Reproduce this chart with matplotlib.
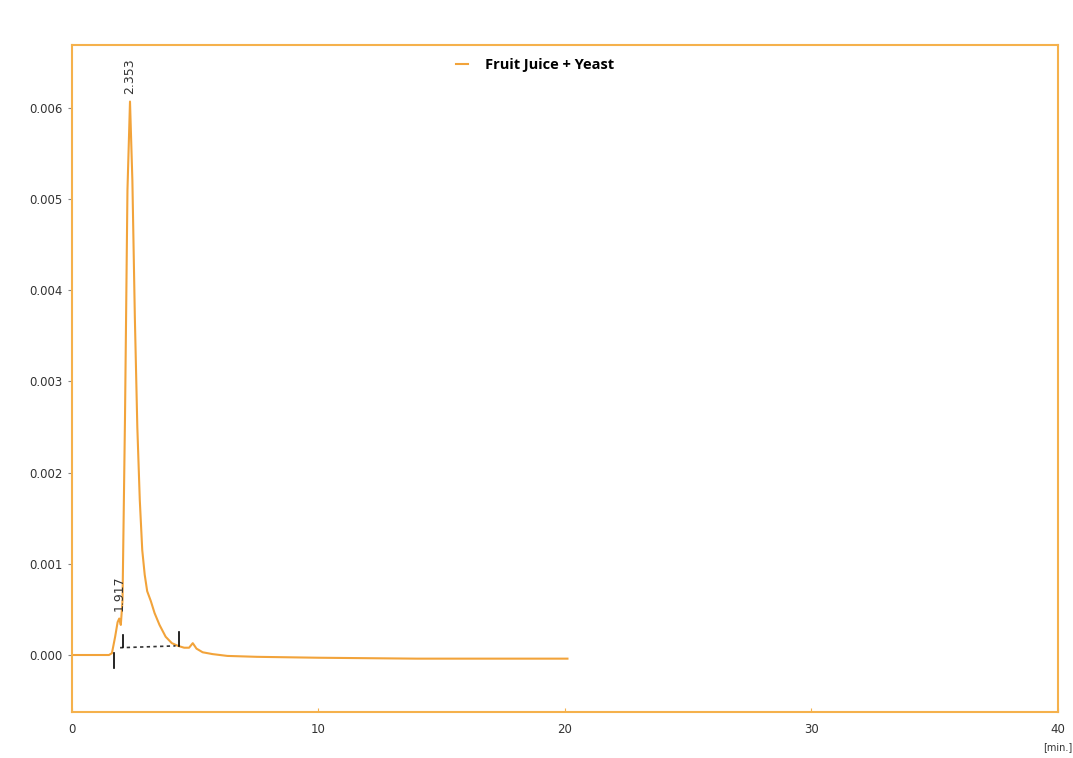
import matplotlib.pyplot as plt

# chromatogram trace (retention time in min, signal)
time_min = [0.0, 1.0, 1.5, 1.62, 1.75, 1.85, 1.917, 1.98, 2.05, 2.15, 2.25, 2.353,
            2.45, 2.55, 2.65, 2.75, 2.85, 2.95, 3.05, 3.2, 3.35, 3.55, 3.8, 4.05,
            4.3, 4.55, 4.75, 4.9, 5.05, 5.3, 5.7, 6.3, 7.5, 10.0, 14.0, 20.1]
signal = [0.0, 0.0, 0.0, 0.00002, 0.0002, 0.00036, 0.0004, 0.00033, 0.0006, 0.0026, 0.0051, 0.00607,
          0.0052, 0.0037, 0.0025, 0.0017, 0.00115, 0.00088, 0.0007, 0.00059, 0.00046, 0.00033, 0.0002, 0.00013,
          0.0001, 0.00008, 0.00008, 0.00013, 0.00007, 0.00003, 0.00001, -0.00001, -0.00002, -0.00003, -0.00004, -0.00004]

peak_times = [1.917, 2.353]
peak_labels = ["1.917", "2.353"]
peak_label_y = [0.00048, 0.00615]

# integration markers (x, y_low, y_high)
marker_x = [1.70, 2.08, 4.35]
marker_lo = [-0.00014, 0.00009, 0.0001]
marker_hi = [0.00002, 0.00022, 0.00025]
base_x = [1.95, 4.2]
base_y = [0.00008, 0.0001]

orange = "#F2A33A"
frame = "#F5B14C"

fig = plt.figure(figsize=(10.73, 7.58), dpi=100)
ax = fig.add_axes([0.0671, 0.0607, 0.9189, 0.8799])

ax.plot(time_min, signal, color=orange, lw=1.5, label="Fruit Juice + Yeast")
ax.plot(base_x, base_y, color="#333333", lw=1.2, ls=(0, (2, 2)))
for mx, lo, hi in zip(marker_x, marker_lo, marker_hi):
    ax.plot([mx, mx], [lo, hi], color="black", lw=1.2)

for t, lab, yy in zip(peak_times, peak_labels, peak_label_y):
    ax.text(t, yy, lab, rotation=90, ha="center", va="bottom", fontsize=9, color="#333333")

ax.set_xlim(0, 40)
ax.set_ylim(-0.000625, 0.00669)
ax.set_xticks([0, 10, 20, 30, 40])
ax.set_yticks([0, 0.001, 0.002, 0.003, 0.004, 0.005, 0.006])
ax.set_yticklabels([f"{v:.3f}" for v in ax.get_yticks()])
ax.tick_params(axis="y", direction="out", length=3, color="#888888", labelsize=8.5, labelcolor="#333333")
ax.tick_params(axis="x", direction="in", length=3, color=frame, labelsize=8.5, labelcolor="#333333", pad=8)
for s in ax.spines.values():
    s.set_color(frame)
    s.set_linewidth(1.5)

ax.text(1.0, -0.045, "[min.]", transform=ax.transAxes, ha="center", va="top", fontsize=7, color="#333333")

leg = ax.legend(loc="upper center", bbox_to_anchor=(0.47, 1.0), frameon=False,
                handlelength=0.8, handletextpad=1.2,
                prop={"family": "Open Sans", "weight": "bold", "size": 10.5})

fig.savefig("out.png", dpi=100)
